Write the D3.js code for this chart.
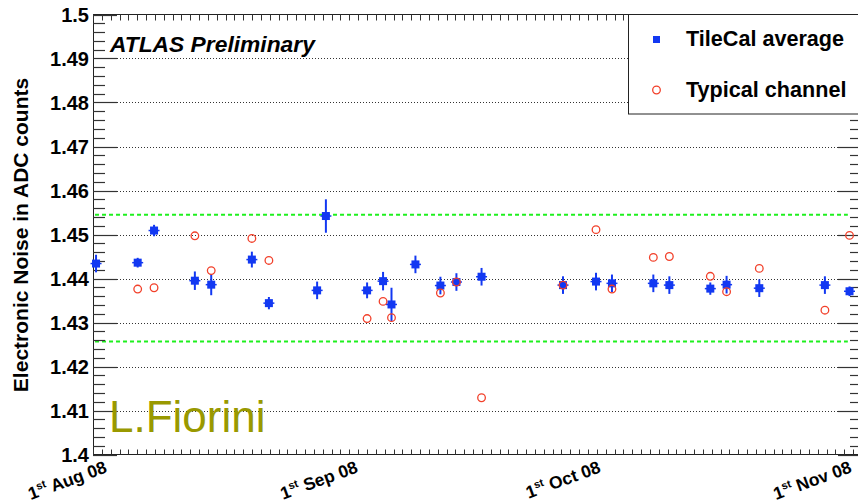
<!DOCTYPE html>
<html>
<head>
<meta charset="utf-8">
<script src="https://cdn.jsdelivr.net/npm/d3@7/dist/d3.min.js"></script>
<style>
  html, body { margin: 0; padding: 0; background: #fff; }
  svg { display: block; font-family: "Liberation Sans", Arial, Helvetica, sans-serif; }
</style>
</head>
<body>
<svg id="chart" width="858" height="500"></svg>
<script>
// Run dates (local time)
const runDates = [
  "2008-08-01T09:00", "2008-08-06T12:30", "2008-08-08T13:00", "2008-08-13T14:00",
  "2008-08-15T14:30", "2008-08-20T15:00", "2008-08-22T17:30", "2008-08-28T16:30",
  "2008-08-29T18:30", "2008-09-03T20:40", "2008-09-05T20:00", "2008-09-06T21:00",
  "2008-09-09T20:00", "2008-09-12T22:00", "2008-09-14T21:30", "2008-09-18T00:00",
  "2008-09-28T01:30", "2008-10-02T03:20", "2008-10-04T02:40", "2008-10-09T05:20",
  "2008-10-11T04:50", "2008-10-16T06:15", "2008-10-18T06:30", "2008-10-22T07:30",
  "2008-10-30T10:00", "2008-11-02T11:00"
];
// TileCal average noise and its uncertainty
const tileCalAverage = [
  1.4434, 1.4436, 1.4509, 1.4395, 1.4386, 1.4443, 1.4344, 1.4373,
  1.4542, 1.4373, 1.4394, 1.4341, 1.4432, 1.4384, 1.4392, 1.4404,
  1.4385, 1.4393, 1.4389, 1.4389, 1.4385, 1.4377, 1.4386, 1.4378,
  1.4385, 1.4371
];
const tileCalError = [
  0.0020, 0.0011, 0.0013, 0.0021, 0.0024, 0.0018, 0.0014, 0.0020,
  0.0038, 0.0018, 0.0021, 0.0038, 0.0020, 0.0020, 0.0020, 0.0020,
  0.0020, 0.0020, 0.0020, 0.0020, 0.0020, 0.0014, 0.0020, 0.0020,
  0.0020, 0.0011
];
// Noise of one typical channel (null = not measured in that run)
const typicalChannel = [
  null, 1.4376, 1.4379, 1.4497, 1.4418, 1.4491, 1.4441, null,
  null, 1.4309, 1.4348, 1.4311, null, 1.4367, 1.4392, 1.4129,
  1.4385, 1.4511, 1.4376, 1.4448, 1.4450, 1.4405, 1.4370, 1.4423,
  1.4328, 1.4498
];
// ±1% band around the mean
const bandLevels = [1.4545, 1.4257];
const bandRange = ["2008-08-01T06:00", "2008-11-02T06:00"];
const xDomain = ["2008-08-01T00:00", "2008-11-04T00:00"];
const monthLabels = [
  { date: "2008-08-01T00:00", text: "Aug 08" },
  { date: "2008-09-01T00:00", text: "Sep 08" },
  { date: "2008-10-01T00:00", text: "Oct 08" },
  { date: "2008-11-01T00:00", text: "Nov 08" }
];
const yDomain = [1.4, 1.5];
const yMajorTicks = [1.4, 1.41, 1.42, 1.43, 1.44, 1.45, 1.46, 1.47, 1.48, 1.49, 1.5];
const yTickLabels = ["1.4", "1.41", "1.42", "1.43", "1.44", "1.45", "1.46", "1.47", "1.48", "1.49", "1.5"];
const legendLabels = ["TileCal average", "Typical channel"];

const parse = d3.timeParse("%Y-%m-%dT%H:%M");
const BLUE = "#1238f2", RED = "#f2402a", GREEN = "#1ef01e";

const svg = d3.select("#chart");
const frame = { left: 93, right: 862, top: 14.5, bottom: 454.5 };

const x = d3.scaleTime().domain(xDomain.map(parse)).range([frame.left, frame.right]);
const y = d3.scaleLinear().domain(yDomain).range([frame.bottom, frame.top]);

// Horizontal dotted grid at the labelled values
svg.append("g").selectAll("line")
  .data(yMajorTicks.filter(v => v > 1.4 && v < 1.5))
  .join("line")
  .attr("x1", frame.left + 24).attr("x2", frame.right - 23)
  .attr("y1", d => Math.round(y(d)) + 0.5).attr("y2", d => Math.round(y(d)) + 0.5)
  .attr("stroke", "#333").attr("stroke-width", 1).attr("stroke-dasharray", "1,2");

// ±1% band lines
svg.append("g").selectAll("line")
  .data(bandLevels)
  .join("line")
  .attr("x1", x(parse(bandRange[0]))).attr("x2", x(parse(bandRange[1])))
  .attr("y1", d => y(d)).attr("y2", d => y(d))
  .attr("stroke", GREEN).attr("stroke-width", 2).attr("stroke-dasharray", "4,3");

// Frame
svg.append("rect")
  .attr("x", frame.left + 0.5).attr("y", frame.top)
  .attr("width", frame.right - frame.left).attr("height", frame.bottom - frame.top)
  .attr("fill", "none").attr("stroke", "#222").attr("stroke-width", 1);

// Y axis ticks (left and right), major every 0.01, minor every 0.002
const yMinor = d3.range(0, 51).map(i => 1.4 + i * 0.002);
const yTicksG = svg.append("g").attr("stroke", "#333").attr("stroke-width", 1.2);
yMinor.forEach((v, i) => {
  const major = i % 5 === 0;
  const len = major ? 24 : 12;
  const yy = Math.round(y(v)) + 0.5;
  yTicksG.append("line").attr("x1", frame.left).attr("x2", frame.left + len).attr("y1", yy).attr("y2", yy);
  yTicksG.append("line").attr("x1", frame.right).attr("x2", frame.right - len).attr("y1", yy).attr("y2", yy);
});

// Y tick labels
svg.append("g").selectAll("text")
  .data(yMajorTicks)
  .join("text")
  .attr("x", 89).attr("y", d => y(d)).attr("dy", "0.36em")
  .attr("text-anchor", "end").attr("font-size", 20).attr("font-weight", "bold")
  .attr("fill", "#000")
  .text((d, i) => yTickLabels[i]);

// X axis ticks (bottom and top)
const d0 = x.domain()[0].getTime(), d1 = x.domain()[1].getTime();
const nX = 87;
const xTicks = d3.range(0, nX + 1).map(i => new Date(d0 + (d1 - d0) * i / nX));
const xTicksG = svg.append("g").attr("stroke", "#333").attr("stroke-width", 1);
xTicks.forEach(t => {
  const xx = Math.round(x(t)) + 0.5;
  xTicksG.append("line").attr("x1", xx).attr("x2", xx).attr("y1", frame.bottom).attr("y2", frame.bottom - 5);
  xTicksG.append("line").attr("x1", xx).attr("x2", xx).attr("y1", frame.top).attr("y2", frame.top + 6);
});

// X month labels, rotated
const labG = svg.append("g");
monthLabels.forEach(m => {
  const t = labG.append("text")
    .attr("transform", `translate(${x(parse(m.date)) + 15},472) rotate(-20)`)
    .attr("text-anchor", "end").attr("font-size", 17.5).attr("font-weight", "bold").attr("fill", "#000");
  t.append("tspan").text("1");
  t.append("tspan").attr("font-size", 11).attr("dy", -7).text("st");
  t.append("tspan").attr("dy", 7).text(" " + m.text);
});

// Y axis title
svg.append("text")
  .attr("transform", "translate(28,235) rotate(-90)")
  .attr("text-anchor", "middle").attr("font-size", 21).attr("font-weight", "bold")
  .attr("fill", "#000")
  .text("Electronic Noise in ADC counts");

const pts = runDates.map((d, i) => ({
  t: parse(d), avg: tileCalAverage[i], err: tileCalError[i], typ: typicalChannel[i]
}));

// TileCal average: error bars + square markers
const avgG = svg.append("g");
avgG.selectAll("line.err")
  .data(pts).join("line").attr("class", "err")
  .attr("x1", d => x(d.t)).attr("x2", d => x(d.t))
  .attr("y1", d => y(d.avg - d.err)).attr("y2", d => y(d.avg + d.err))
  .attr("stroke", BLUE).attr("stroke-width", 2);
avgG.selectAll("line.xerr")
  .data(pts).join("line").attr("class", "xerr")
  .attr("x1", d => x(d.t) - 5.5).attr("x2", d => x(d.t) + 5.5)
  .attr("y1", d => y(d.avg)).attr("y2", d => y(d.avg))
  .attr("stroke", BLUE).attr("stroke-width", 1.5);
avgG.selectAll("rect")
  .data(pts).join("rect")
  .attr("x", d => x(d.t) - 4).attr("y", d => y(d.avg) - 4)
  .attr("width", 8).attr("height", 8)
  .attr("fill", BLUE);

// Typical channel: open circles
svg.append("g").selectAll("circle")
  .data(pts.filter(d => d.typ !== null))
  .join("circle")
  .attr("cx", d => x(d.t)).attr("cy", d => y(d.typ)).attr("r", 3.8)
  .attr("fill", "none").attr("stroke", RED).attr("stroke-width", 1.3);

// Experiment label
svg.append("text")
  .attr("x", 110).attr("y", 52)
  .attr("font-size", 22.8).attr("font-weight", "bold").attr("font-style", "italic")
  .attr("fill", "#000")
  .text("ATLAS Preliminary");

// Author tag
svg.append("text")
  .attr("x", 109).attr("y", 432)
  .attr("font-size", 44).attr("fill", "#999900")
  .text("L.Fiorini");

// Legend
const leg = svg.append("g");
leg.append("rect")
  .attr("x", 628.5).attr("y", frame.top)
  .attr("width", 240).attr("height", 99.5)
  .attr("fill", "#fff").attr("stroke", "#222").attr("stroke-width", 1);
leg.append("rect").attr("x", 653).attr("y", 36).attr("width", 7).attr("height", 7).attr("fill", BLUE);
leg.append("circle").attr("cx", 656.5).attr("cy", 90).attr("r", 3.8)
  .attr("fill", "none").attr("stroke", RED).attr("stroke-width", 1.3);
leg.selectAll("text.lab")
  .data(legendLabels).join("text").attr("class", "lab")
  .attr("x", 686).attr("y", (d, i) => 46 + i * 50.5)
  .attr("font-size", 21.6).attr("font-weight", "bold").attr("fill", "#000")
  .text(d => d);
</script>
</body>
</html>
